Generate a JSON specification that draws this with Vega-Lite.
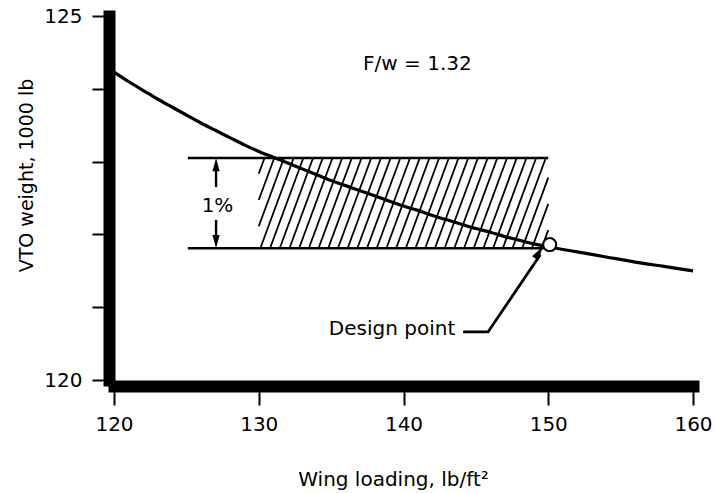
{
  "$schema": "https://vega.github.io/schema/vega-lite/v6.json",
  "width": 579,
  "height": 364,
  "autosize": {"type": "none"},
  "padding": {"left": 114, "top": 16, "right": 21, "bottom": 113},
  "background": "white",
  "config": {
    "view": {"stroke": null},
    "axis": {
      "grid": false,
      "domainColor": "black",
      "tickColor": "black",
      "labelColor": "black",
      "titleColor": "black",
      "labelFont": "DejaVu Sans",
      "titleFont": "DejaVu Sans",
      "titleFontWeight": "normal",
      "labelFontSize": 20,
      "titleFontSize": 20,
      "labelFlush": false
    }
  },
  "datasets": {
    "curve": [
      {"x": 120, "y": 124.23}, {"x": 121, "y": 124.10}, {"x": 122, "y": 123.98}, {"x": 123, "y": 123.86},
      {"x": 124, "y": 123.75}, {"x": 125, "y": 123.64}, {"x": 126, "y": 123.53}, {"x": 127, "y": 123.43},
      {"x": 128, "y": 123.33}, {"x": 129, "y": 123.23}, {"x": 130, "y": 123.14}, {"x": 131, "y": 123.06},
      {"x": 132, "y": 122.98}, {"x": 133, "y": 122.90}, {"x": 134, "y": 122.82}, {"x": 135, "y": 122.74},
      {"x": 136, "y": 122.67}, {"x": 137, "y": 122.60}, {"x": 138, "y": 122.53}, {"x": 139, "y": 122.46},
      {"x": 140, "y": 122.39}, {"x": 141, "y": 122.33}, {"x": 142, "y": 122.26}, {"x": 143, "y": 122.20},
      {"x": 144, "y": 122.14}, {"x": 145, "y": 122.08}, {"x": 146, "y": 122.03}, {"x": 147, "y": 121.97},
      {"x": 148, "y": 121.92}, {"x": 149, "y": 121.87}, {"x": 150, "y": 121.83}, {"x": 152, "y": 121.76},
      {"x": 154, "y": 121.69}, {"x": 156, "y": 121.62}, {"x": 158, "y": 121.56}, {"x": 160, "y": 121.50}
    ],
    "hatch": [
      {"x": 130, "y": 122.834, "x2": 130.4, "y2": 123.05},
      {"x": 130, "y": 122.473, "x2": 131.07, "y2": 123.05},
      {"x": 130, "y": 122.112, "x2": 131.74, "y2": 123.05},
      {"x": 130.11, "y": 121.81, "x2": 132.41, "y2": 123.05},
      {"x": 130.78, "y": 121.81, "x2": 133.08, "y2": 123.05},
      {"x": 131.45, "y": 121.81, "x2": 133.75, "y2": 123.05},
      {"x": 132.12, "y": 121.81, "x2": 134.42, "y2": 123.05},
      {"x": 132.79, "y": 121.81, "x2": 135.09, "y2": 123.05},
      {"x": 133.46, "y": 121.81, "x2": 135.76, "y2": 123.05},
      {"x": 134.13, "y": 121.81, "x2": 136.43, "y2": 123.05},
      {"x": 134.80, "y": 121.81, "x2": 137.10, "y2": 123.05},
      {"x": 135.47, "y": 121.81, "x2": 137.77, "y2": 123.05},
      {"x": 136.14, "y": 121.81, "x2": 138.44, "y2": 123.05},
      {"x": 136.81, "y": 121.81, "x2": 139.11, "y2": 123.05},
      {"x": 137.48, "y": 121.81, "x2": 139.78, "y2": 123.05},
      {"x": 138.15, "y": 121.81, "x2": 140.45, "y2": 123.05},
      {"x": 138.82, "y": 121.81, "x2": 141.12, "y2": 123.05},
      {"x": 139.49, "y": 121.81, "x2": 141.79, "y2": 123.05},
      {"x": 140.16, "y": 121.81, "x2": 142.46, "y2": 123.05},
      {"x": 140.83, "y": 121.81, "x2": 143.13, "y2": 123.05},
      {"x": 141.50, "y": 121.81, "x2": 143.80, "y2": 123.05},
      {"x": 142.17, "y": 121.81, "x2": 144.47, "y2": 123.05},
      {"x": 142.84, "y": 121.81, "x2": 145.14, "y2": 123.05},
      {"x": 143.51, "y": 121.81, "x2": 145.81, "y2": 123.05},
      {"x": 144.18, "y": 121.81, "x2": 146.48, "y2": 123.05},
      {"x": 144.85, "y": 121.81, "x2": 147.15, "y2": 123.05},
      {"x": 145.52, "y": 121.81, "x2": 147.82, "y2": 123.05},
      {"x": 146.19, "y": 121.81, "x2": 148.49, "y2": 123.05},
      {"x": 146.86, "y": 121.81, "x2": 149.16, "y2": 123.05},
      {"x": 147.53, "y": 121.81, "x2": 149.83, "y2": 123.05},
      {"x": 148.20, "y": 121.81, "x2": 150, "y2": 122.780},
      {"x": 148.87, "y": 121.81, "x2": 150, "y2": 122.419},
      {"x": 149.54, "y": 121.81, "x2": 150, "y2": 122.058}
    ],
    "bounds": [
      {"x": 125.1, "x2": 150, "y": 123.05},
      {"x": 125.1, "x2": 150, "y": 121.81}
    ],
    "shafts": [
      {"x": 127.05, "y": 122.65, "y2": 122.96},
      {"x": 127.05, "y": 121.90, "y2": 122.20}
    ],
    "arrowUp": [{"x": 127.05, "y": 123.05}],
    "arrowDown": [{"x": 127.05, "y": 121.81}],
    "leader": [
      {"x": 144.12, "y": 120.66, "o": 1},
      {"x": 145.84, "y": 120.66, "o": 2},
      {"x": 149.45, "y": 121.72, "o": 3}
    ],
    "arrowDesign": [{"x": 149.62, "y": 121.83}],
    "design": [{"x": 150.1, "y": 121.86}],
    "labels": [
      {"x": 140.96, "y": 124.26, "text": "F/w = 1.32"},
      {"x": 127.15, "y": 122.31, "text": "1%"},
      {"x": 139.21, "y": 120.62, "text": "Design point"}
    ]
  },
  "encoding": {
    "x": {
      "field": "x",
      "type": "quantitative",
      "scale": {"domain": [120, 160], "nice": false, "zero": false},
      "axis": {
        "title": "Wing loading, lb/ft²",
        "values": [120, 130, 140, 150, 160],
        "format": "d",
        "offset": 6,
        "domainWidth": 12,
        "domainCap": "square",
        "tickSize": 19,
        "tickWidth": 2,
        "labelPadding": 9,
        "titleX": 279,
        "titleY": 99,
        "titleAlign": "center",
        "titleBaseline": "alphabetic"
      }
    },
    "y": {
      "field": "y",
      "type": "quantitative",
      "scale": {"domain": [120, 125], "nice": false, "zero": false},
      "axis": {
        "title": "VTO weight, 1000 lb",
        "values": [120, 121, 122, 123, 124, 125],
        "labelExpr": "datum.value == 120 || datum.value == 125 ? datum.label : ''",
        "offset": 5,
        "domainWidth": 12,
        "domainCap": "square",
        "tickSize": 17,
        "tickWidth": 2,
        "labelPadding": 10,
        "titleFontSize": 19,
        "titleX": -77,
        "titleY": 159,
        "titleAlign": "center",
        "titleBaseline": "alphabetic"
      }
    }
  },
  "layer": [
    {
      "data": {"name": "hatch"},
      "mark": {"type": "rule", "color": "black", "strokeWidth": 1.8},
      "encoding": {"x2": {"field": "x2"}, "y2": {"field": "y2"}}
    },
    {
      "data": {"name": "bounds"},
      "mark": {"type": "rule", "color": "black", "strokeWidth": 2.4},
      "encoding": {"x2": {"field": "x2"}}
    },
    {
      "data": {"name": "shafts"},
      "mark": {"type": "rule", "color": "black", "strokeWidth": 2.4},
      "encoding": {"y2": {"field": "y2"}}
    },
    {
      "data": {"name": "curve"},
      "mark": {"type": "line", "color": "black", "strokeWidth": 3.2, "interpolate": "monotone"},
      "encoding": {}
    },
    {
      "data": {"name": "arrowUp"},
      "mark": {"type": "point", "filled": true, "color": "black", "opacity": 1, "size": 144, "shape": "M0,0L0.6,2.2L-0.6,2.2Z"},
      "encoding": {}
    },
    {
      "data": {"name": "arrowDown"},
      "mark": {"type": "point", "filled": true, "color": "black", "opacity": 1, "size": 144, "shape": "M0,0L0.6,-2.2L-0.6,-2.2Z"},
      "encoding": {}
    },
    {
      "data": {"name": "leader"},
      "mark": {"type": "line", "color": "black", "strokeWidth": 2.8},
      "encoding": {"order": {"field": "o", "type": "quantitative"}}
    },
    {
      "data": {"name": "arrowDesign"},
      "mark": {"type": "point", "filled": true, "color": "black", "opacity": 1, "size": 121, "shape": "M0,0L0.7,2.5L-0.7,2.5Z", "angle": 33},
      "encoding": {}
    },
    {
      "data": {"name": "design"},
      "mark": {"type": "point", "shape": "circle", "size": 170, "fill": "white", "fillOpacity": 1, "stroke": "black", "strokeWidth": 2, "opacity": 1},
      "encoding": {}
    },
    {
      "data": {"name": "labels"},
      "mark": {"type": "text", "font": "DejaVu Sans", "fontSize": 20, "color": "black", "align": "center", "baseline": "alphabetic"},
      "encoding": {"text": {"field": "text"}}
    }
  ]
}
